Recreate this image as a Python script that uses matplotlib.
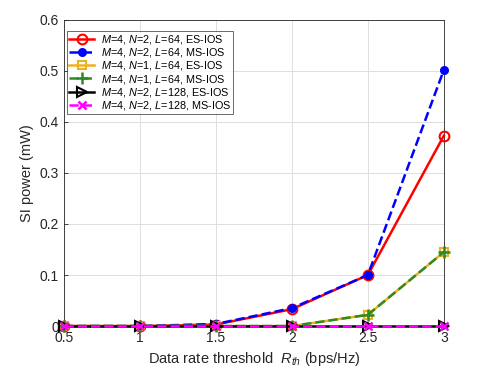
import matplotlib
matplotlib.use('Agg')
import matplotlib.pyplot as plt

plt.rcParams['font.family'] = ['Liberation Sans', 'DejaVu Sans']
plt.rcParams['mathtext.fontset'] = 'custom'
plt.rcParams['mathtext.it'] = 'Liberation Sans:italic'
plt.rcParams['mathtext.rm'] = 'Liberation Sans'

rth = [0.5, 1, 1.5, 2, 2.5, 3]
es_n2_l64 = [0, 0, 0.003, 0.033, 0.1, 0.373]
ms_n2_l64 = [0, 0, 0.004, 0.035, 0.1, 0.502]
es_n1_l64 = [0, 0, 0, 0, 0.022, 0.145]
ms_n1_l64 = [0, 0, 0, 0, 0.022, 0.145]
es_n2_l128 = [0, 0, 0, 0, 0, 0]
ms_n2_l128 = [0, 0, 0, 0, 0, 0]

fig = plt.figure(figsize=(4.91, 3.68), dpi=100)
ax = fig.add_axes([0.130, 0.114, 0.774, 0.832])

kw = dict(lw=1.8, clip_on=False, zorder=5)
ax.plot(rth, es_n2_l64, '-', color='red', marker='o', ms=7, mfc='none', mew=1.5,
        label='$M$=4, $N$=2, $L$=64, ES-IOS', **kw)
ax.plot(rth, ms_n2_l64, '--', color='blue', marker='o', ms=5, mfc='blue', mew=1.5,
        label='$M$=4, $N$=2, $L$=64, MS-IOS', **kw)
ax.plot(rth, es_n1_l64, '-', color='#EDB120', marker='s', ms=6, mfc='none', mew=1.5,
        label='$M$=4, $N$=1, $L$=64, ES-IOS', **kw)
ax.plot(rth, ms_n1_l64, '--', color='#2E8B22', marker='+', ms=8, mew=1.8,
        label='$M$=4, $N$=1, $L$=64, MS-IOS', **kw)
ax.plot(rth, es_n2_l128, '-', color='black', marker='>', ms=7, mfc='none', mew=1.5,
        label='$M$=4, $N$=2, $L$=128, ES-IOS', **kw)
ax.plot(rth, ms_n2_l128, '--', color='magenta', marker='x', ms=6, mew=1.8,
        label='$M$=4, $N$=2, $L$=128, MS-IOS', **kw)

ax.set_xlim(0.5, 3)
ax.set_ylim(0, 0.6)
ax.set_xticks(rth)
ax.set_xticklabels(['0.5', '1', '1.5', '2', '2.5', '3'])
ax.set_yticks([0, 0.1, 0.2, 0.3, 0.4, 0.5, 0.6])
ax.set_yticklabels(['0', '0.1', '0.2', '0.3', '0.4', '0.5', '0.6'])
ax.grid(True, color='#dfdfdf', lw=0.7)
ax.set_axisbelow(True)
for s in ax.spines.values():
    s.set_color('#262626')
    s.set_linewidth(0.6)
ax.tick_params(direction='in', length=3, width=0.6, colors='#262626', labelsize=10)
ax.set_xlabel('Data rate threshold  $R_{th}$ (bps/Hz)', fontsize=10.5, color='#262626')
ax.set_ylabel('SI power (mW)', fontsize=10.5, color='#262626')

leg = ax.legend(loc='upper left', bbox_to_anchor=(0.0, 0.975), fontsize=7.8, frameon=True,
                fancybox=False, edgecolor='#262626', borderaxespad=0.3, handlelength=2.3,
                labelspacing=0.02, borderpad=0.2, handletextpad=0.6)
leg.get_frame().set_linewidth(0.6)
leg.set_zorder(10)

fig.savefig('out.png', dpi=100)
